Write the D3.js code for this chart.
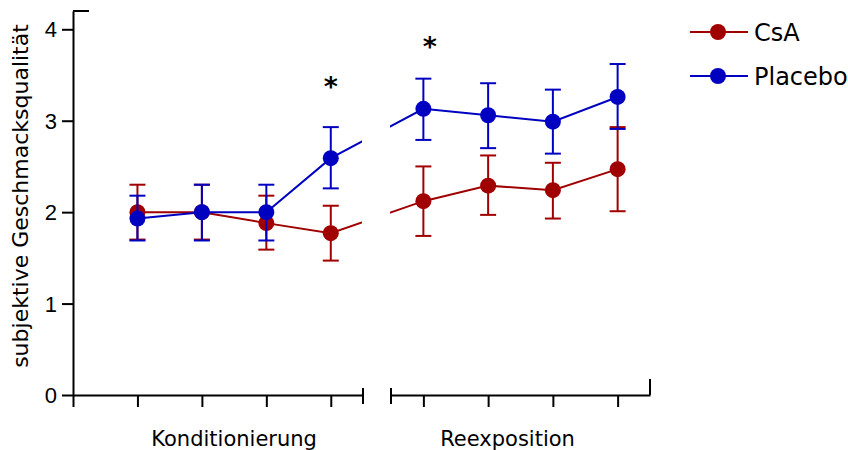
<!DOCTYPE html>
<html>
<head>
<meta charset="utf-8">
<script src="https://cdn.jsdelivr.net/npm/d3@7"></script>
<style>
  body { margin: 0; background: #fff; }
</style>
</head>
<body>
<div id="chart"></div>
<script>
// Messzeitpunkte: 1-4 Konditionierung, 5-8 Reexposition
const sessions = [1, 2, 3, 4, 5, 6, 7, 8];
const phases = ["Konditionierung", "Reexposition"];
const phaseCenter = [2.5, 6.3];

const csaMean = [2.00, 2.00, 1.88, 1.77, 2.12, 2.29, 2.24, 2.47];
const csaLow = [1.70, 1.70, 1.59, 1.47, 1.74, 1.97, 1.93, 2.01];
const csaHigh = [2.30, 2.30, 2.18, 2.07, 2.50, 2.62, 2.54, 2.93];

const placeboMean = [1.93, 2.00, 2.00, 2.59, 3.13, 3.06, 2.99, 3.26];
const placeboLow = [1.69, 1.69, 1.69, 2.26, 2.79, 2.70, 2.64, 2.91];
const placeboHigh = [2.18, 2.30, 2.30, 2.93, 3.46, 3.41, 3.34, 3.62];

const yTicks = [0, 1, 2, 3, 4];
const sigPos = [4.0, 5.1];
const sigLevel = [3.42, 3.86];

const width = 848, height = 450;
const red = "#a00000", blue = "#0000c0";

const svg = d3.select("#chart")
  .append("svg")
  .attr("width", width)
  .attr("height", height);

const y = d3.scaleLinear().domain([0, 4.2]).range([395, 11]);
// unterbrochene x-Achse: zwei Teilskalen
const x1 = d3.scaleLinear().domain([0, 4.5]).range([73, 363]);
const x2 = d3.scaleLinear().domain([4.5, 8.5]).range([391, 650]);
const x = d => d <= 4.5 ? x1(d) : x2(d);

// Clip für die Linien (Lücke an der Achsenunterbrechung)
const defs = svg.append("defs");
const clip = defs.append("clipPath").attr("id", "gap");
clip.append("rect").attr("x", 0).attr("y", 0).attr("width", 362).attr("height", height);
clip.append("rect").attr("x", 390).attr("y", 0).attr("width", width - 390).attr("height", height);

// y-Achse
const yAxis = svg.append("g")
  .attr("transform", `translate(${x1(0)},0)`)
  .call(d3.axisLeft(y).tickValues(yTicks).tickFormat(d3.format("d"))
    .tickSize(11).tickSizeOuter(0).tickPadding(5));
yAxis.selectAll("text")
  .style("font-family", "'Liberation Sans', Arial, sans-serif")
  .style("font-size", "22px")
  .attr("dy", "0.35em");

// x-Achse, Teil 1
svg.append("g")
  .attr("transform", `translate(0,${y(0)})`)
  .call(d3.axisBottom(x1).tickValues([0, 1, 2, 3, 4]).tickSize(12).tickSizeOuter(0).tickFormat(""));
// x-Achse, Teil 2
svg.append("g")
  .attr("transform", `translate(0,${y(0)})`)
  .call(d3.axisBottom(x2).tickValues([5, 6, 7, 8]).tickSize(12).tickSizeOuter(0).tickFormat(""));

svg.selectAll(".domain, .tick line").attr("stroke", "#000").attr("stroke-width", 2);

// Endmarken an der Unterbrechung
[x1(4.5), x2(4.5)].forEach(px => {
  svg.append("line")
    .attr("x1", px).attr("x2", px)
    .attr("y1", y(0) - 7).attr("y2", y(0) + 9)
    .attr("stroke", "#000").attr("stroke-width", 2);
});

// kurze Haken an den Achsenenden
svg.append("path")
  .attr("d", `M${x1(0)},${y(4.2)}h16`)
  .attr("stroke", "#000").attr("stroke-width", 2);
svg.append("path")
  .attr("d", `M${x2(8.5)},${y(0)}v-16`)
  .attr("stroke", "#000").attr("stroke-width", 2);

// Phasenbeschriftung
svg.selectAll(".phase")
  .data(phases)
  .enter()
  .append("text")
  .attr("class", "phase")
  .attr("x", (d, i) => x(phaseCenter[i]))
  .attr("y", 446)
  .attr("text-anchor", "middle")
  .style("font-family", "'DejaVu Sans', sans-serif")
  .style("font-size", "21px")
  .text(d => d);

// y-Titel
svg.append("text")
  .attr("transform", "translate(28,196) rotate(-90)")
  .attr("text-anchor", "middle")
  .style("font-family", "'DejaVu Sans', sans-serif")
  .style("font-size", "22px")
  .text("subjektive Geschmacksqualität");

const series = [
  { name: "CsA", color: red, mean: csaMean, low: csaLow, high: csaHigh },
  { name: "Placebo", color: blue, mean: placeboMean, low: placeboLow, high: placeboHigh }
];

const line = d3.line()
  .x((d, i) => x(sessions[i]))
  .y(d => y(d));

series.forEach(s => {
  const g = svg.append("g");
  g.append("path")
    .datum(s.mean)
    .attr("clip-path", "url(#gap)")
    .attr("fill", "none")
    .attr("stroke", s.color)
    .attr("stroke-width", 2)
    .attr("d", line);

  const bars = g.selectAll(".err")
    .data(sessions)
    .enter()
    .append("g")
    .attr("class", "err")
    .attr("stroke", s.color)
    .attr("stroke-width", 2);
  bars.append("line")
    .attr("x1", d => x(d)).attr("x2", d => x(d))
    .attr("y1", (d, i) => y(s.low[i])).attr("y2", (d, i) => y(s.high[i]));
  bars.append("line")
    .attr("x1", d => x(d) - 8).attr("x2", d => x(d) + 8)
    .attr("y1", (d, i) => y(s.high[i])).attr("y2", (d, i) => y(s.high[i]));
  bars.append("line")
    .attr("x1", d => x(d) - 8).attr("x2", d => x(d) + 8)
    .attr("y1", (d, i) => y(s.low[i])).attr("y2", (d, i) => y(s.low[i]));

  g.selectAll("circle")
    .data(s.mean)
    .enter()
    .append("circle")
    .attr("cx", (d, i) => x(sessions[i]))
    .attr("cy", d => y(d))
    .attr("r", 8)
    .attr("fill", s.color);
});

// Signifikanzsterne
svg.selectAll(".sig")
  .data(sigPos)
  .enter()
  .append("text")
  .attr("class", "sig")
  .attr("x", d => x(d))
  .attr("y", (d, i) => y(sigLevel[i]) + 14)
  .attr("text-anchor", "middle")
  .style("font-family", "'DejaVu Sans', sans-serif")
  .style("font-weight", "bold")
  .style("font-size", "27px")
  .text("*");

// Legende
const legend = svg.selectAll(".legend")
  .data(series)
  .enter()
  .append("g")
  .attr("class", "legend")
  .attr("transform", (d, i) => `translate(690,${32 + i * 44})`);
legend.append("line")
  .attr("x1", 0).attr("x2", 58)
  .attr("stroke", d => d.color)
  .attr("stroke-width", 2);
legend.append("circle")
  .attr("cx", 28).attr("r", 8)
  .attr("fill", d => d.color);
legend.append("text")
  .attr("x", 64)
  .attr("dy", "0.36em")
  .style("font-family", "'DejaVu Sans', sans-serif")
  .style("font-size", "24px")
  .text(d => d.name);
</script>
</body>
</html>
